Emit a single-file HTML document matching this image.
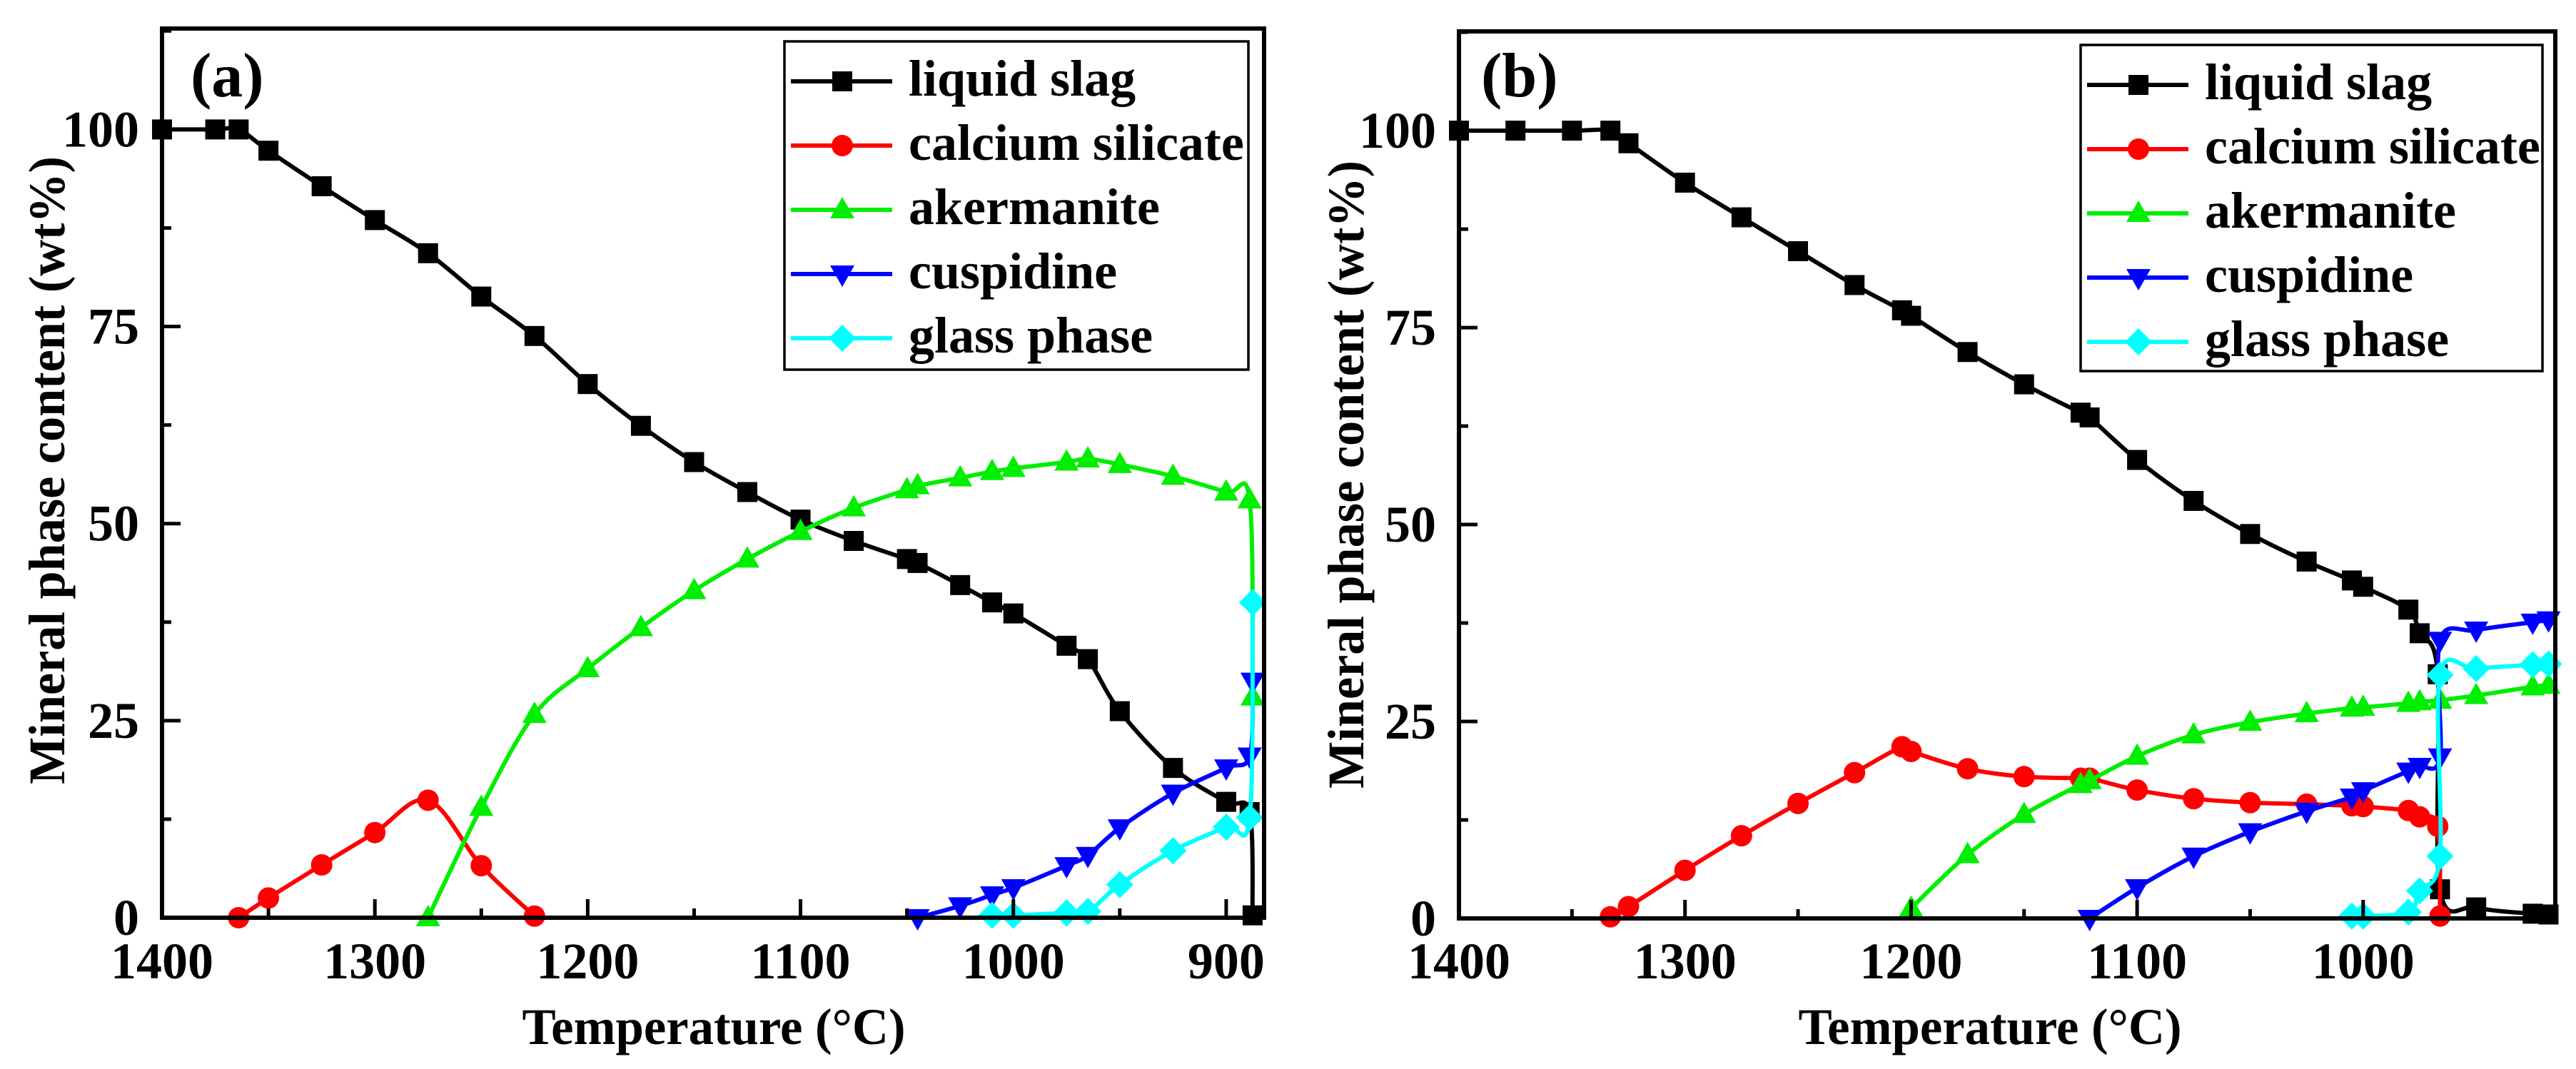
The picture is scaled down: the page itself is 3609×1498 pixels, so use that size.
<!DOCTYPE html>
<html><head><meta charset="utf-8"><style>
html,body{margin:0;padding:0;background:#fff;}
svg{display:block;font-family:"Liberation Serif","DejaVu Serif",serif;font-weight:bold;}
</style></head><body>
<svg id="fig" width="3609" height="1498" viewBox="0 0 3609 1498" xmlns="http://www.w3.org/2000/svg"></svg>
<script>
const seriesNames = ["liquid slag","calcium silicate","akermanite","cuspidine","glass phase"];
const seriesColors = ["#000000","#ff0000","#00ee00","#0000ff","#00ffff"];
const seriesMarkers = ["square","circle","triangle","down","diamond"];
const yTicks = [0,25,50,75,100];
const xTicksA = [1400,1300,1200,1100,1000,900];
const xTicksB = [1400,1300,1200,1100,1000];

// Panel (a) data
const aLiquidT = [1400,1375,1364,1350,1325,1300,1275,1250,1225,1200,1175,1150,1125,1100,1075,1050,1045,1025,1010,1000,975,965,950,925,900,889,887.6];
const aLiquidV = [100,100,100,97.3,92.8,88.5,84.3,78.8,73.8,67.7,62.4,57.8,54,50.5,47.8,45.5,45,42.2,40,38.6,34.5,32.8,26.2,19,14.7,13.4,0.3];
const aCalcT = [1364,1350,1325,1300,1275,1250,1225];
const aCalcV = [0,2.5,6.7,10.8,14.9,6.6,0.2];
const aAkerT = [1275,1250,1225,1200,1175,1150,1125,1100,1075,1050,1045,1025,1010,1000,975,965,950,925,900,889,887.6];
const aAkerV = [0,14,25.8,31.6,36.8,41.5,45.5,49,52,54.3,54.8,55.8,56.6,57,57.8,58.2,57.5,56,54,53,28];
const aCuspT = [1045,1025,1010,1000,975,965,950,925,900,889,887.6];
const aCuspV = [0,1.5,2.9,3.8,6.6,7.9,11.4,15.8,19,20.5,30];
const aGlassT = [1010,1000,975,965,950,925,900,889,887.6];
const aGlassV = [0.3,0.3,0.6,0.8,4.2,8.5,11.5,12.7,40];

// Panel (b) data
const bLiquidT = [1400,1375,1350,1333,1325,1300,1275,1250,1225,1204,1200,1175,1150,1125,1121,1100,1075,1050,1025,1005,1000,980,975,967,966,950,925,918];
const bLiquidV = [100,100,100,100,98.4,93.4,89,84.7,80.4,77.2,76.5,71.9,67.8,64.2,63.6,58.2,53,48.8,45.3,42.9,42.1,39.2,36.2,31,3.7,1.4,0.6,0.5];
const bCalcT = [1333,1325,1300,1275,1250,1225,1204,1200,1175,1150,1125,1121,1100,1075,1050,1025,1005,1000,980,975,967,966];
const bCalcV = [0.2,1.5,6.1,10.5,14.6,18.5,21.8,21.2,19,18,17.8,17.8,16.3,15.2,14.7,14.5,14.3,14.2,13.7,12.9,11.7,0.3];
const bAkerT = [1200,1175,1150,1125,1121,1100,1075,1050,1025,1005,1000,980,975,966,950,925,918];
const bAkerV = [1.3,8.1,13.2,17,17.5,20.6,23.3,24.9,26,26.7,26.8,27.3,27.5,27.7,28.3,29.4,29.6];
const bCuspT = [1121,1100,1075,1050,1025,1005,1000,980,975,966,966,950,925,918];
const bCuspV = [0,3.9,7.9,11,13.6,15.4,16.2,18.7,19.3,20.5,35.3,36.6,37.6,37.9];
const bGlassT = [1005,1000,980,975,966,966,950,925,918];
const bGlassV = [0.3,0.3,0.8,3.5,7.9,30.9,31.7,32.2,32.3];

const svg = document.getElementById('fig');
const NS = "http://www.w3.org/2000/svg";
function mk(tag, attrs, parent){
  const e = document.createElementNS(NS, tag);
  for (const k in attrs) e.setAttribute(k, attrs[k]);
  (parent||svg).appendChild(e);
  return e;
}
function spline(pts){
  let d = "M"+pts[0][0].toFixed(1)+","+pts[0][1].toFixed(1);
  for (let i=0;i<pts.length-1;i++){
    const p0 = pts[Math.max(0,i-1)], p1 = pts[i], p2 = pts[i+1], p3 = pts[Math.min(pts.length-1,i+2)];
    const c1 = [p1[0]+(p2[0]-p0[0])/6, p1[1]+(p2[1]-p0[1])/6];
    const c2 = [p2[0]-(p3[0]-p1[0])/6, p2[1]-(p3[1]-p1[1])/6];
    d += " C"+c1[0].toFixed(1)+","+c1[1].toFixed(1)+" "+c2[0].toFixed(1)+","+c2[1].toFixed(1)+" "+p2[0].toFixed(1)+","+p2[1].toFixed(1);
  }
  return d;
}
function marker(g, type, x, y, color){
  let e;
  if (type==="square") e = mk('rect',{x:x-14,y:y-14,width:28,height:28,fill:color},g);
  else if (type==="circle") e = mk('circle',{cx:x,cy:y,r:15,fill:color},g);
  else if (type==="triangle") e = mk('polygon',{points:`${x},${y-18} ${x+17},${y+12} ${x-17},${y+12}`,fill:color},g);
  else if (type==="down") e = mk('polygon',{points:`${x},${y+18} ${x+17},${y-12} ${x-17},${y-12}`,fill:color},g);
  else e = mk('polygon',{points:`${x},${y-19} ${x+19},${y} ${x},${y+19} ${x-19},${y}`,fill:color},g);
  return e;
}

function panel(p){
  const X = t => p.x0 + (p.tmax - t)/(p.tmax - p.tmin)*(p.x1 - p.x0);
  const Y = v => p.y0 - v/(p.vmax)*(p.y0 - p.y1);
  const g = mk('g',{});
  
  
  // series
  for (let s=0;s<5;s++){
    const sg = mk('g',{},g);
    
    
    const T = p.data[s][0], V = p.data[s][1];
    const pts = T.map((t,i)=>[X(t),Y(V[i])]);
    const path = mk('path',{d:spline(pts),fill:'none',stroke:seriesColors[s],'stroke-width':6,'stroke-linejoin':'round'},sg);
    
    
    pts.forEach(pt=>{
      const m = marker(sg, seriesMarkers[s], pt[0], pt[1], seriesColors[s]);
      
      
    });
  }
  // axes box
  const box = mk('rect',{x:p.x0,y:p.y1,width:p.x1-p.x0,height:p.y0-p.y1,fill:'none',stroke:'#000','stroke-width':6},g);
  
  
  // x ticks
  for (let t=p.tmax; t>=p.tmin; t-=50){
    const major = (t%100===0);
    const tk = mk('line',{x1:X(t),x2:X(t),y1:p.y0,y2:p.y0-(major?26:13),stroke:'#000','stroke-width':5},g);
    
    
  }
  p.xticks.forEach(t=>{
    const tl = mk('text',{x:X(t),y:1371,'font-size':72,'text-anchor':'middle'},g);
    tl.textContent = t;
    
    
  });
  for (let v=0; v<=p.vmax; v+=12.5){
    const major = (v%25===0);
    const tk = mk('line',{x1:p.x0,x2:p.x0+(major?26:13),y1:Y(v),y2:Y(v),stroke:'#000','stroke-width':5},g);
    
    
  }
  yTicks.forEach(v=>{
    const tl = mk('text',{x:p.x0-32,y:Y(v)+24,'font-size':72,'text-anchor':'end'},g);
    tl.textContent = v;
    
    
  });
  const yt = mk('text',{x:0,y:0,'font-size':72,'text-anchor':'middle',textLength:880,lengthAdjust:'spacingAndGlyphs',transform:`translate(${p.ytx},${p.yty}) rotate(-90)`},g);
  yt.textContent = "Mineral phase content (wt%)";
  
  
  const xt = mk('text',{x:p.xtx,y:1463,'font-size':72,'text-anchor':'middle',textLength:537,lengthAdjust:'spacingAndGlyphs'},g);
  xt.textContent = "Temperature (\u00B0C)";
  
  
  const pl = mk('text',{x:p.lblx,y:135,'font-size':88},g);
  pl.textContent = "("+p.id+")";
  
  
  // legend
  const lg = mk('g',{},g);
  
  
  const lb = mk('rect',{x:p.lx0,y:p.ly0,width:p.lx1-p.lx0,height:p.ly1-p.ly0,fill:'#fff',stroke:'#000','stroke-width':3.5},lg);
  
  
  for (let s=0;s<5;s++){
    const ry = p.ly0 + 56 + s*90;
    const eg = mk('g',{},lg);
    
    
    mk('line',{x1:p.lx0+9,x2:p.lx0+151,y1:ry,y2:ry,stroke:seriesColors[s],'stroke-width':6},eg);
    marker(eg, seriesMarkers[s], p.lx0+81, ry, seriesColors[s]);
    const tx = mk('text',{x:p.lx0+174,y:ry+20,'font-size':72},eg);
    tx.textContent = seriesNames[s];
  }
}

panel({id:'a', x0:227, x1:1771, y0:1286, y1:40, tmax:1400, tmin:882.2, vmax:112.8,
  xticks:xTicksA, ytx:90, yty:659, xtx:1000, lblx:267,
  lx0:1099, lx1:1749, ly0:58, ly1:518,
  data:[[aLiquidT,aLiquidV],[aCalcT,aCalcV],[aAkerT,aAkerV],[aCuspT,aCuspV],[aGlassT,aGlassV]]});
panel({id:'b', x0:2044, x1:3580, y0:1287, y1:44, tmax:1400, tmin:915, vmax:112.6,
  xticks:xTicksB, ytx:1910, yty:665, xtx:2788, lblx:2075,
  lx0:2915, lx1:3562, ly0:63, ly1:520,
  data:[[bLiquidT,bLiquidV],[bCalcT,bCalcV],[bAkerT,bAkerV],[bCuspT,bCuspV],[bGlassT,bGlassV]]});
</script>
</body></html>
